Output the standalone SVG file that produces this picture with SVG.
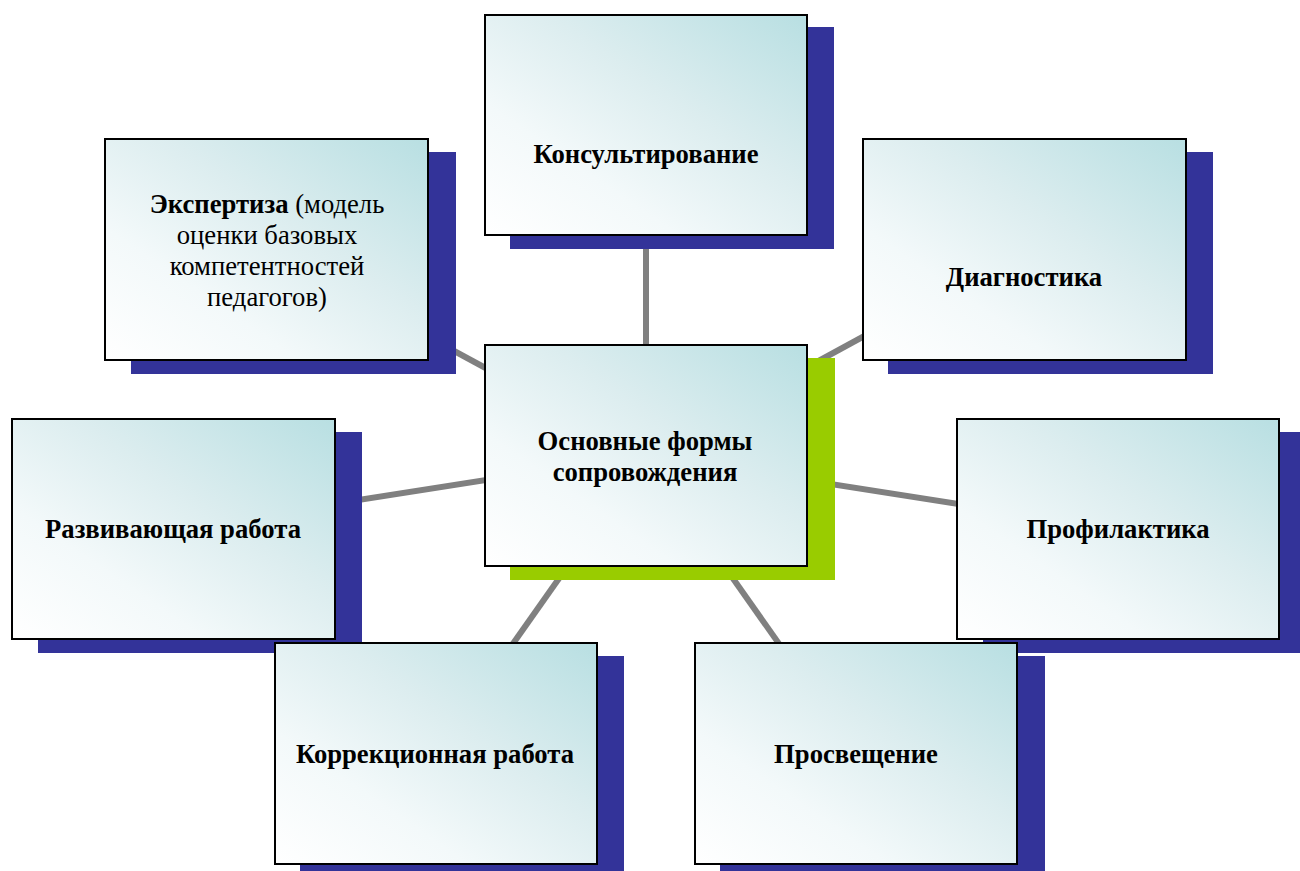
<svg xmlns="http://www.w3.org/2000/svg" width="1300" height="871" viewBox="0 0 1300 871">
<defs>
<linearGradient id="g" x1="0" y1="1" x2="1" y2="0">
<stop offset="0" stop-color="#ffffff"/>
<stop offset="0.3" stop-color="#f3f9fa"/>
<stop offset="0.6" stop-color="#dcedef"/>
<stop offset="1" stop-color="#b8dfe2"/>
</linearGradient>
</defs>
<style>
.box{fill:url(#g);stroke:#000;stroke-width:2}
.sh{fill:#333399}
.shg{fill:#99cc00}
.t{font-family:"Liberation Serif","Times New Roman",serif;font-size:26.67px;fill:#000;text-anchor:middle}
.b{font-weight:bold}
.con line{stroke:#808080;stroke-width:6}
</style>
<rect width="1300" height="871" fill="#fff"/>
<g id="connectors" class="con">
<line x1="646" y1="455" x2="646" y2="125"/>
<line x1="646" y1="455" x2="266" y2="249"/>
<line x1="646" y1="455" x2="1024" y2="249"/>
<line x1="646" y1="455" x2="173" y2="529"/>
<line x1="646" y1="455" x2="1118" y2="529"/>
<line x1="646" y1="455" x2="436" y2="753"/>
<line x1="646" y1="455" x2="856" y2="753"/>
</g>
<g id="n-konsult">
<rect class="sh" x="510" y="27" width="324" height="222"/>
<rect class="box" x="485" y="15" width="322" height="220"/>
<text class="t b" x="646" y="163">Консультирование</text>
</g>
<g id="n-ekspert">
<rect class="sh" x="131" y="152" width="325" height="222"/>
<rect class="box" x="105" y="139" width="323" height="221"/>
<text class="t" x="267" y="213"><tspan class="b">Экспертиза</tspan> (модель</text>
<text class="t" x="267" y="244">оценки базовых</text>
<text class="t" x="267" y="275">компетентностей</text>
<text class="t" x="267" y="306">педагогов)</text>
</g>
<g id="n-diagn">
<rect class="sh" x="888" y="152" width="325" height="222"/>
<rect class="box" x="863" y="139" width="323" height="221"/>
<text class="t b" x="1024" y="286">Диагностика</text>
</g>
<g id="n-center">
<rect class="shg" x="510" y="358" width="325" height="222"/>
<rect class="box" x="485" y="345" width="322" height="221"/>
<text class="t b" x="645" y="450">Основные формы</text>
<text class="t b" x="645" y="481">сопровождения</text>
</g>
<g id="n-razv">
<rect class="sh" x="38" y="432" width="324" height="221"/>
<rect class="box" x="12" y="419" width="323" height="220"/>
<text class="t b" x="173" y="538">Развивающая работа</text>
</g>
<g id="n-profil">
<rect class="sh" x="983" y="432" width="324" height="221"/>
<rect class="box" x="957" y="419" width="322" height="220"/>
<text class="t b" x="1118" y="538">Профилактика</text>
</g>
<g id="n-korr">
<rect class="sh" x="300" y="656" width="324" height="222"/>
<rect class="box" x="275" y="643" width="322" height="221"/>
<text class="t b" x="435" y="763">Коррекционная работа</text>
</g>
<g id="n-prosv">
<rect class="sh" x="720" y="656" width="325" height="222"/>
<rect class="box" x="695" y="643" width="322" height="221"/>
<text class="t b" x="856" y="763">Просвещение</text>
</g>
</svg>
